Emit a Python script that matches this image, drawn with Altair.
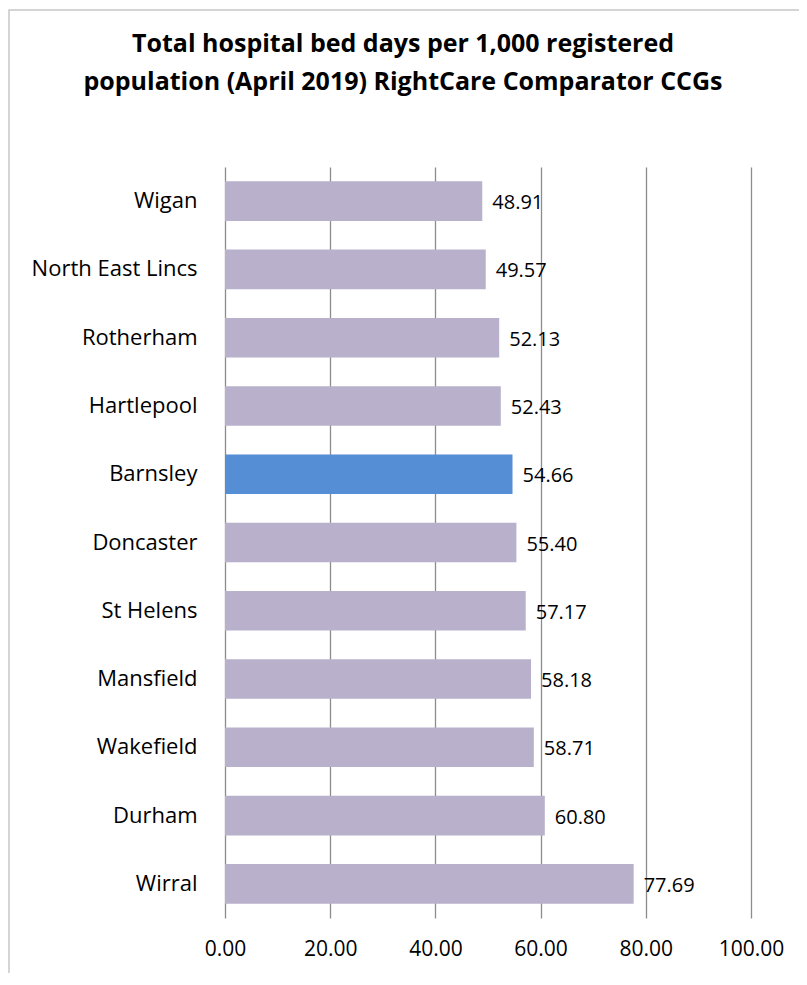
import altair as alt
import pandas as pd

ccgs = ["Wigan", "North East Lincs", "Rotherham", "Hartlepool", "Barnsley", "Doncaster",
        "St Helens", "Mansfield", "Wakefield", "Durham", "Wirral"]
values = [48.91, 49.57, 52.13, 52.43, 54.66, 55.40, 57.17, 58.18, 58.71, 60.80, 77.69]
highlight = ["Barnsley"]
title_lines = ["Total hospital bed days per 1,000 registered",
               "population (April 2019) RightCare Comparator CCGs"]

df = pd.DataFrame({"ccg": ccgs, "value": values})
df["hl"] = df["ccg"].isin(highlight).map({True: "Barnsley", False: "Other"})
df["label"] = df["value"].map(lambda v: f"{v:.2f}")

FONT = "Open Sans"

base = alt.Chart(df)

y_enc = alt.Y("ccg:N", sort=ccgs, title=None,
              scale=alt.Scale(paddingInner=0.42, paddingOuter=0.21),
              axis=alt.Axis(labelFont=FONT, labelFontSize=22, labelColor="#000",
                            labelPadding=28, ticks=False, domain=False, grid=False))
x_enc = alt.X("value:Q", title=None,
              scale=alt.Scale(domain=[0, 100], nice=False),
              axis=alt.Axis(values=[0, 20, 40, 60, 80, 100], format=".2f",
                            labelFont=FONT, labelFontSize=21, labelColor="#000",
                            labelPadding=20, labelFlush=False, labelOverlap=False,
                            ticks=False, domain=False,
                            grid=True, gridColor="#8c8c8c", gridWidth=1.3))

bars = base.mark_bar().encode(
    x=x_enc, y=y_enc,
    color=alt.Color("hl:N", scale=alt.Scale(domain=["Barnsley", "Other"],
                                            range=["#558ED5", "#B9B0CB"]), legend=None),
)

labels = base.mark_text(align="left", baseline="middle", dx=10, dy=2, font=FONT,
                        fontSize=20, color="#000").encode(
    x="value:Q", y=alt.Y("ccg:N", sort=ccgs), text="label:N")

frame = alt.Chart(pd.DataFrame({"a": [0]})).mark_rect(
    fill="transparent", stroke="#c8c8c8", strokeWidth=1.5).encode(
    x=alt.value(-216), x2=alt.value(620), y=alt.value(-157), y2=alt.value(1000))

title_df = pd.DataFrame({"t": title_lines, "i": [0, 1]})
title1 = alt.Chart(title_df).transform_filter("datum.i == 0").mark_text(
    font=FONT, fontSize=25, fontWeight="bold", color="#000", align="center",
    baseline="middle").encode(text="t:N", x=alt.value(178), y=alt.value(-123))
title2 = alt.Chart(title_df).transform_filter("datum.i == 1").mark_text(
    font=FONT, fontSize=25, fontWeight="bold", color="#000", align="center",
    baseline="middle").encode(text="t:N", x=alt.value(178), y=alt.value(-85))

chart = alt.layer(frame, bars, labels, title1, title2).properties(
    width=526, height=751,
    autosize=alt.AutoSizeParams(type="none"),
    padding={"left": 217, "top": 159, "right": 48, "bottom": 55},
).configure_view(stroke=None)

chart.save("out.html", embed_options={"renderer": "svg", "actions": False})
